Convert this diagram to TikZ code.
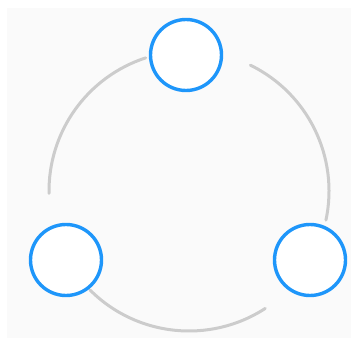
\documentclass[tikz,border=0pt]{standalone}
\begin{document}
\begin{tikzpicture}[x=1pt,y=1pt,
  ring/.style={draw=gray!40!white, line width=3pt, line cap=round},
  dot/.style={circle, draw={rgb,255:red,30;green,150;blue,250}, line width=3.4pt, minimum size=71pt, inner sep=0pt, fill=white}]
\fill[white] (0,0) rectangle (351,338);
\fill[black!2] (7,0) rectangle (351,330);
\useasboundingbox (0,0) rectangle (351,338);
\coordinate (c) at (189,147);
\draw[ring] (c) ++(108:140) arc[start angle=108, end angle=181, radius=140];
\draw[ring] (c) ++(225:140) arc[start angle=225, end angle=303, radius=140];
\draw[ring] (c) ++(348:140) arc[start angle=348, end angle=424, radius=140];
\node[dot] (top) at (186,283) {};
\node[dot] (bl) at (66,78) {};
\node[dot] (br) at (310,78) {};
\end{tikzpicture}
\end{document}
